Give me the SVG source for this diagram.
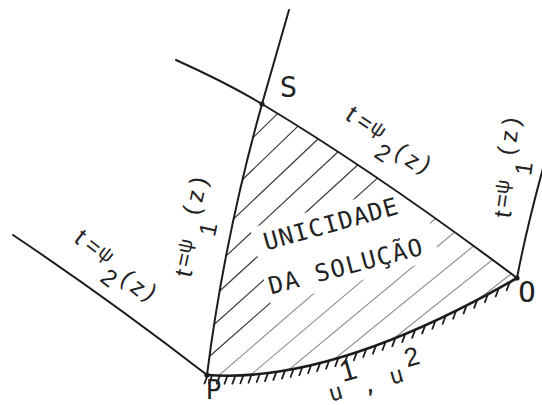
<svg xmlns="http://www.w3.org/2000/svg" width="542" height="405" viewBox="0 0 542 405">
<style>
.ln{fill:none;stroke:#1c1c1c;stroke-width:2;stroke-linecap:round}
.bd{fill:none;stroke:#1c1c1c;stroke-width:2.6;stroke-linecap:round}
.tk{fill:none;stroke:#1c1c1c;stroke-width:1.8;stroke-linecap:round}
.h1{fill:none;stroke:#3a3a3a;stroke-width:1.2}
.h2{fill:none;stroke:#8c8c8c;stroke-width:1.1}
.mono{font-family:"DejaVu Sans Mono",monospace;fill:#222}
.lab{font-family:"Liberation Sans",Arial,sans-serif;fill:#222;font-size:22px}
.pt{fill:#1c1c1c}
</style>
<defs>
<clipPath id="reg"><path d="M207,375 Q224,240 262,104 Q377,173 517,278 Q333,384 207,375 Z"/></clipPath>
<mask id="txtgap"><rect width="542" height="405" fill="#fff"/><rect x="-79" y="-17" width="175" height="80" fill="#000" transform="translate(330.5,223.5) rotate(-15.5)"/></mask>
</defs>
<rect width="542" height="405" fill="#fff"/>
<g id="hatching" clip-path="url(#reg)" mask="url(#txtgap)">
<path class="h1" d="M292,99.5L-43,427.8M311.5,113.1L-23.5,435.7M331,126.7L-4,443.9M350.5,140.2L15.5,451.8M370,153.8L35,459.7M389.5,167.4L54.5,467.5M409,180.9L74,475.7"/>
<path class="h2" d="M428.5,194.5L93.5,483.6M448,208L113,491.4M467.5,221.5L132.5,499.6M487,235.1L152,507.5M506.5,248.7L171.5,515.3M526,262.2L191,523.5"/>
</g>
<g id="connectors">
<path id="psi2-upper" class="ln" d="M176,60 Q226.7,82.8 262,104 Q377,173 517,278"/>
<path id="psi1-left" class="ln" d="M207,375 Q224,240 262,104 L289,10"/>
<path id="psi2-left" class="ln" d="M13,235 Q110,300 207,375"/>
<path id="psi1-right" class="ln" d="M517,278 Q527,225 548,150"/>
<path id="boundary" class="bd" d="M207,375 Q333,384 517,278"/>
<path id="boundary-ticks" class="tk" d="M207.5,375.5l-3,8M212.1,375.3l-3,8M219.8,375.6l-3,8M227.5,375.7l-3,8M235.4,375.6l-3,8M243.4,375.3l-3,8M251.5,374.7l-3,8M259.7,374l-3,8M268,373.1l-3,8M276.4,371.9l-3,8M285,370.6l-3,8M293.6,369l-3,8M302.3,367.2l-3,8M311.1,365.2l-3,8M320.1,363.1l-3,8M329.1,360.7l-3,8M338.3,358.1l-3,8M347.5,355.3l-3,8M356.9,352.2l-3,8M366.3,349l-3,8M375.9,345.6l-3,8M385.5,342l-3,8M395.3,338.1l-3,8M405.2,334.1l-3,8M415.2,329.8l-3,8M425.2,325.4l-3,8M435.4,320.7l-3,8M445.7,315.8l-3,8M456.1,310.7l-3,8M466.6,305.4l-3,8M477.2,299.9l-3,8M487.9,294.2l-3,8M498.8,288.3l-3,8M509.7,282.2l-3,8"/>
</g>
<g id="node-S"><circle class="pt" cx="262" cy="104" r="2.6"/><text class="mono" font-size="29" text-anchor="middle" x="288.5" y="97">S</text></g>
<g id="node-O"><circle class="pt" cx="517" cy="278" r="2.6"/><text class="mono" font-size="29" text-anchor="middle" x="527" y="301.5">O</text></g>
<g id="node-P"><circle class="pt" cx="207" cy="375" r="2.6"/><text class="mono" font-size="26" text-anchor="middle" x="213.5" y="399">P</text></g>
<g id="label-psi2-upper"><text class="lab" text-anchor="middle" transform="translate(352,113) rotate(34)"><tspan x="0" y="9" font-size="25">t</tspan><tspan x="16" y="8.3" font-size="23">=</tspan><tspan x="31" y="5" font-size="20">ψ</tspan><tspan x="48" y="24" font-size="24">2</tspan><tspan x="62" y="12.2" font-size="24">(</tspan><tspan x="77" y="13.2" font-size="24">z</tspan><tspan x="90" y="9.7" font-size="24">)</tspan></text></g>
<g id="label-psi2-left"><text class="lab" text-anchor="middle" transform="translate(81,236) rotate(38)"><tspan x="0" y="9" font-size="25">t</tspan><tspan x="16" y="8.3" font-size="23">=</tspan><tspan x="31" y="5" font-size="20">ψ</tspan><tspan x="48" y="24" font-size="24">2</tspan><tspan x="62" y="12.2" font-size="24">(</tspan><tspan x="77" y="13.2" font-size="24">z</tspan><tspan x="90" y="9.7" font-size="24">)</tspan></text></g>
<g id="label-psi1-left"><text class="lab" text-anchor="middle" transform="translate(183,273) rotate(-78)"><tspan x="0" y="9" font-size="25">t</tspan><tspan x="13" y="5.8" font-size="23">=</tspan><tspan x="27" y="3" font-size="20">ψ</tspan><tspan x="48" y="23.6" font-size="24">1</tspan><tspan x="63" y="3.2" font-size="24">(</tspan><tspan x="78" y="4.2" font-size="24">z</tspan><tspan x="93" y="4.2" font-size="24">)</tspan></text></g>
<g id="label-psi1-right"><text class="lab" text-anchor="middle" transform="translate(502,214) rotate(-82)"><tspan x="0" y="9" font-size="25">t</tspan><tspan x="13" y="5.8" font-size="23">=</tspan><tspan x="27" y="3" font-size="20">ψ</tspan><tspan x="48" y="23.6" font-size="24">1</tspan><tspan x="63" y="3.2" font-size="24">(</tspan><tspan x="78" y="4.2" font-size="24">z</tspan><tspan x="93" y="4.2" font-size="24">)</tspan></text></g>
<g id="label-region">
<text class="mono" font-size="24" letter-spacing="1" text-anchor="middle" transform="translate(331,223.5) rotate(-15.5)" y="8.7">UNICIDADE</text>
<text class="mono" font-size="24" letter-spacing="1.5" text-anchor="middle" transform="translate(346,265.75) rotate(-14.7)" y="8.7">DA SOLUÇÃO</text>
</g>
<g id="label-u"><text class="mono" font-size="23" text-anchor="middle" transform="translate(336,394) rotate(-16)"><tspan x="0" y="6">u</tspan><tspan x="18" y="-9.5" font-family="Liberation Sans, Arial, sans-serif" font-size="30">1</tspan><tspan x="34" y="8">,</tspan><tspan x="63" y="6.5">u</tspan><tspan x="83" y="-6" font-family="Liberation Sans, Arial, sans-serif" font-size="26">2</tspan></text></g>
</svg>
